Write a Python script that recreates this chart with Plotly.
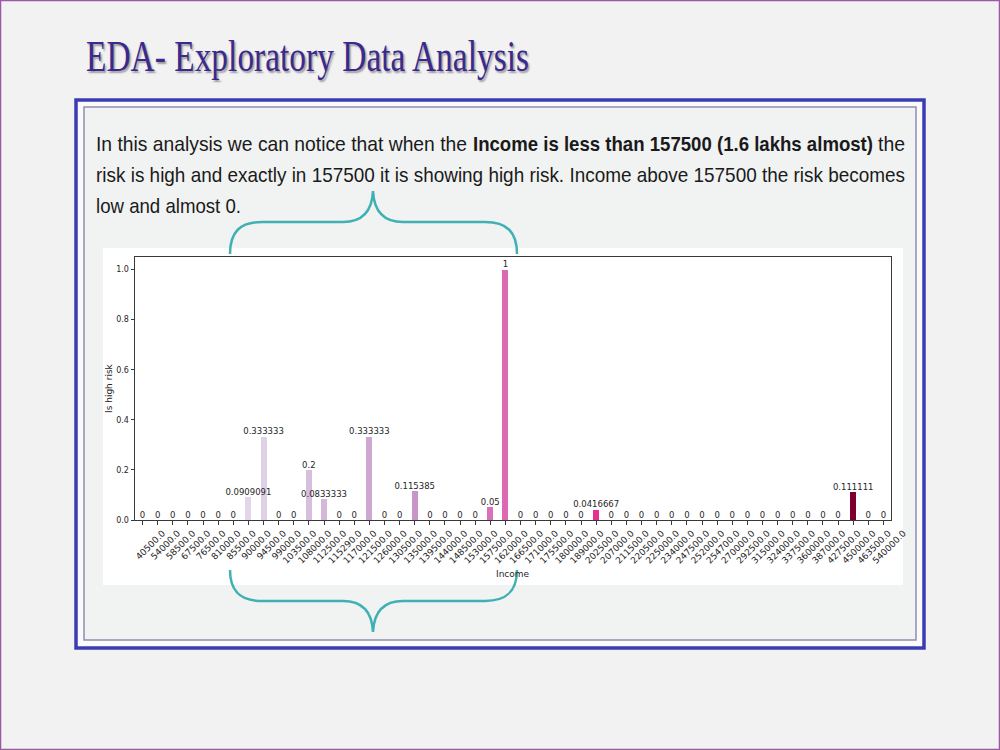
import plotly.graph_objects as go

# ---------------- data ----------------
income = ["40500.0", "54000.0", "58500.0", "67500.0", "76500.0", "81000.0", "85500.0",
          "90000.0", "94500.0", "99000.0", "103500.0", "108000.0", "112500.0", "115290.0",
          "117000.0", "121500.0", "126000.0", "130500.0", "135000.0", "139500.0", "144000.0",
          "148500.0", "153000.0", "157500.0", "162000.0", "166500.0", "171000.0", "175500.0",
          "180000.0", "189000.0", "202500.0", "207000.0", "211500.0", "220500.0", "225000.0",
          "234000.0", "247500.0", "252000.0", "254700.0", "270000.0", "292500.0", "315000.0",
          "324000.0", "337500.0", "360000.0", "387000.0", "427500.0", "450000.0", "463500.0",
          "540000.0"]
high_risk = [0, 0, 0, 0, 0, 0, 0,
             0.0909091, 0.333333, 0, 0, 0.2, 0.0833333, 0,
             0, 0.333333, 0, 0, 0.115385, 0, 0,
             0, 0, 0.05, 1, 0, 0, 0,
             0, 0, 0.0416667, 0, 0, 0, 0,
             0, 0, 0, 0, 0, 0, 0,
             0, 0, 0, 0, 0, 0.111111, 0,
             0]
y_ticks = [0.0, 0.2, 0.4, 0.6, 0.8, 1.0]

title_text = "EDA- Exploratory Data Analysis"
line1_plain = "In this analysis we can notice that when the"
line1_bold = "Income is less than 157500 (1.6 lakhs almost)"
line1_end = "the"
line2 = "risk is high and exactly in 157500 it is showing high risk. Income above 157500 the risk becomes"
line3 = "low and almost 0."

# ---------------- colours (PuRd palette, seaborn-style sampling) ----------------
PURD = [(247, 244, 249), (231, 225, 239), (212, 185, 218), (201, 148, 199), (223, 101, 176),
        (231, 41, 138), (206, 18, 86), (152, 0, 67), (103, 0, 31)]


def purd(t):
    pos = t * (len(PURD) - 1)
    i = min(int(pos), len(PURD) - 2)
    f = pos - i
    a, b = PURD[i], PURD[i + 1]
    return "rgb(%d,%d,%d)" % tuple(round(a[k] + (b[k] - a[k]) * f) for k in range(3))


n = len(income)
bar_colors = [purd((i + 1) / (n + 1)) for i in range(n)]
labels = [f"{v:g}" for v in high_risk]

W, H = 1000, 750


def X(px):
    return px / W


def Y(py):
    return 1 - py / H


fig = go.Figure()
fig.add_trace(go.Bar(
    x=income, y=high_risk, width=0.4,
    marker=dict(color=bar_colors, line=dict(width=0)),
    hoverinfo="x+y",
))
# value labels drawn on top of all bars (like matplotlib bar_label)
fig.add_trace(go.Scatter(
    x=income, y=high_risk, mode="text", text=labels, textposition="top center",
    cliponaxis=False, hoverinfo="skip",
    textfont=dict(family="DejaVu Sans", size=8.5, color="#262626"),
))

shapes = []
# page border
shapes.append(dict(type="rect", xref="paper", yref="paper", x0=X(0.5), x1=X(999.5), y0=Y(749.5), y1=Y(0.5),
                   line=dict(color="#9b5aa6", width=1.5), layer="below"))
# blue frame
shapes.append(dict(type="rect", xref="paper", yref="paper", x0=X(76), x1=X(924), y0=Y(648), y1=Y(100),
                   line=dict(color="#3a3db2", width=3.5), fillcolor="#fafafd", layer="below"))
shapes.append(dict(type="rect", xref="paper", yref="paper", x0=X(84), x1=X(916), y0=Y(640), y1=Y(107),
                   line=dict(color="#8d90b0", width=1.5), fillcolor="#f1f2f2", layer="below"))
# white chart image background
shapes.append(dict(type="rect", xref="paper", yref="paper", x0=X(103), x1=X(903), y0=Y(585), y1=Y(248),
                   line=dict(width=0), fillcolor="white", layer="below"))


def path(cmds):
    out = []
    for c in cmds:
        if isinstance(c, str):
            out.append(c)
        else:
            out.append("%.5f,%.5f" % (X(c[0]), Y(c[1])))
    return " ".join(out)


upper = path(["M", (230, 254), "C", (230, 232), (240, 222), (262, 222), "L", (343, 222),
              "C", (362, 222), (372, 212), (373, 191), "C", (374, 212), (384, 222), (403, 222),
              "L", (485, 222), "C", (507, 222), (517, 232), (517, 254)])
lower = path(["M", (230, 570), "C", (230, 591), (240, 601), (262, 601), "L", (343, 601),
              "C", (362, 601), (372, 611), (373, 632), "C", (374, 611), (384, 601), (403, 601),
              "L", (485, 601), "C", (507, 601), (517, 591), (517, 570)])
for p in (upper, lower):
    shapes.append(dict(type="path", xref="paper", yref="paper", path=p,
                       line=dict(color="#3fb1b5", width=2.5), layer="above"))

annotations = []
# 0: title (box width = width it takes on the slide)
annotations.append(dict(xref="paper", yref="paper", x=X(84), y=Y(57), xanchor="left", yanchor="middle",
                        align="left", text=title_text, showarrow=False, width=446,
                        font=dict(family="Liberation Serif", size=44, color="#3b2a8e",
                                  shadow="2px 2px 2px #9a9a9a")))
# 1-3: first body line in three pieces, 4-5: other lines
# (text, left px, centre px, box width, weight)
body_pieces = [(line1_plain, 94, 143, 374, "normal"), (line1_bold, 471, 143, 403, "bold"),
               (line1_end, 876, 143, 30, "normal"), (line2, 94, 174, 812, "normal"),
               (line3, 94, 205, 148, "normal")]
for txt, px, py, bw, wt in body_pieces:
    annotations.append(dict(xref="paper", yref="paper", x=X(px), y=Y(py), xanchor="left", yanchor="middle",
                            align="left", text=txt, showarrow=False, width=bw,
                            font=dict(family="Liberation Sans", size=21, color="#1a1a1a", weight=wt)))
annotations.append(dict(xref="paper", yref="paper", x=X(109), y=Y(388), text="Is high risk",
                        textangle=-90, showarrow=False, xanchor="center", yanchor="middle",
                        font=dict(family="DejaVu Sans", size=9, color="#262626")))
annotations.append(dict(xref="paper", yref="paper", x=X(513), y=Y(574), text="Income",
                        showarrow=False, xanchor="center", yanchor="middle",
                        font=dict(family="DejaVu Sans", size=9, color="#262626")))

fig.update_layout(
    width=W, height=H, autosize=False, margin=dict(l=0, r=0, t=0, b=0, autoexpand=False),
    paper_bgcolor="#f2f2f2", plot_bgcolor="white",
    showlegend=False, bargap=0,
    shapes=shapes, annotations=annotations,
    xaxis=dict(domain=[X(135), X(891)], type="category", categoryorder="array", categoryarray=income,
               range=[-0.5, n - 0.5], showline=True, linecolor="#3a3a3a", linewidth=1, mirror=True,
               ticks="outside", ticklen=3.5, tickcolor="#3a3a3a", tickangle=-45, ticklabelshift=20,
               tickfont=dict(family="DejaVu Sans", size=9, color="#262626"),
               showgrid=False, zeroline=False, automargin=False),
    yaxis=dict(domain=[Y(520), Y(257)], range=[0, 1.05], tickvals=y_ticks, tickformat=".1f",
               showline=True, linecolor="#3a3a3a", linewidth=1, mirror=True,
               ticks="outside", ticklen=3.5, tickcolor="#3a3a3a",
               tickfont=dict(family="DejaVu Sans", size=8, color="#262626"),
               showgrid=False, zeroline=False, automargin=False),
)

# condense the slide texts to the widths they occupy on the original slide
post = """
var gd = document.getElementById('{plot_id}');
var widths = {0: 443, 1: 371, 2: 400, 3: 27, 4: 809, 5: 145};
Object.keys(widths).forEach(function(k){
  var t = gd.querySelector('g.annotation[data-index="' + k + '"] text.annotation-text');
  if (t) {
    t.setAttribute('textLength', widths[k]);
    t.setAttribute('lengthAdjust', 'spacingAndGlyphs');
    t.removeAttribute('clip-path');
  }
});
"""

fig.write_html("out.html", post_script=post)
